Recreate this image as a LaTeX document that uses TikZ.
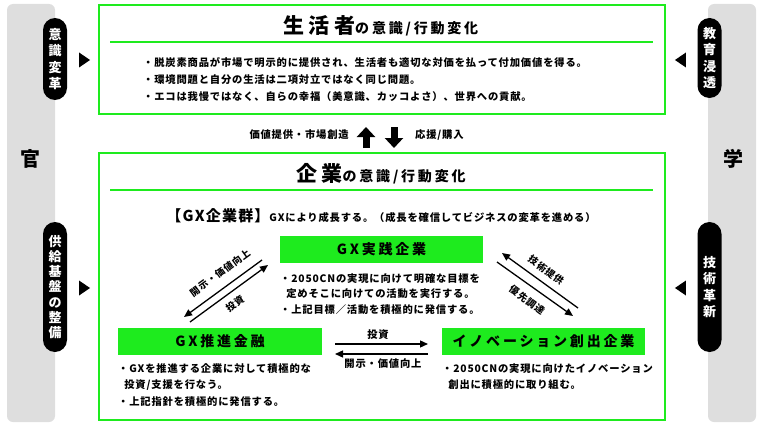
\documentclass[tikz,border=0pt]{standalone}
\usepackage{fontspec}
\setmainfont{Noto Sans CJK JP}[LetterSpace=8]
\newfontfamily\ttlfont{Noto Sans CJK JP}[LetterSpace=20]
\usetikzlibrary{shapes.geometric,arrows.meta}
\definecolor{gxgreen}{RGB}{30,235,30}
\definecolor{panelgray}{RGB}{222,222,222}

\begin{document}
\begin{tikzpicture}[x=1pt,y=-1pt]
        \tikzstyle{panel}=[fill=panelgray,rounded corners=6pt]
        \tikzstyle{frame}=[draw=gxgreen,line width=2.5pt]
        \tikzstyle{pill}=[fill=black,rounded corners=12pt,text=white,align=center,
        inner sep=0pt,minimum width=24pt,font=\bfseries\fontsize{13}{16.3}\selectfont]
        \tikzstyle{pointer}=[isosceles triangle,fill=black,inner sep=0pt,minimum height=11pt,
        minimum width=15pt,isosceles triangle stretches]
        \tikzstyle{gxbox}=[fill=gxgreen,minimum width=203pt,minimum height=27pt,inner sep=0pt,
        font=\ttlfont\bfseries\fontsize{14}{14}\selectfont]
        \tikzstyle{bullets}=[anchor=north west,align=left,inner sep=0pt,
        font=\bfseries\fontsize{10.3}{16.5}\selectfont]
        \tikzstyle{lbl}=[inner sep=0pt,font=\bfseries\fontsize{10.3}{12}\selectfont]
        \tikzstyle{slbl}=[inner sep=0pt,font=\bfseries\fontsize{9.6}{11}\selectfont]
        \tikzstyle{bigarrow}=[line width=7pt,-{Triangle[length=10pt,width=18pt]}]
        \tikzstyle{flow}=[line width=1.3pt,-{Triangle[length=8pt,width=7pt]}]
        \useasboundingbox (0,0) rectangle (760,428);

        % side panels
        \fill[panel] (7,4) rectangle (55,422);
        \fill[panel] (708,4) rectangle (756,422);
        \node[font=\bfseries\fontsize{20}{20}\selectfont] (kan) at (30,159) {官};
        \node[font=\bfseries\fontsize{20}{20}\selectfont] (gaku) at (733,159) {学};

        \node[pill,minimum height=82pt] (ishiki) at (55,59) {意\\識\\変\\革};
        \node[pill,minimum height=130pt,font=\bfseries\fontsize{13}{15.2}\selectfont] (kiban) at (55,287) {供\\給\\基\\盤\\の\\整\\備};
        \node[pill,minimum height=80pt] (kyoiku) at (709.5,58) {教\\育\\浸\\透};
        \node[pill,minimum height=130pt] (gijutsu) at (709.5,287) {技\\術\\革\\新};

        \node[pointer] (m1) at (83,60) {};
        \node[pointer] (m2) at (83,288) {};
        \node[pointer,shape border rotate=180] (m3) at (682,60) {};
        \node[pointer,shape border rotate=180] (m4) at (682,288) {};

        % consumers
        \node[frame,minimum width=566pt,minimum height=109pt] (life) at (382,59.5) {};
        \node[anchor=base] (lifettl) at (381,34)
        {\ttlfont\bfseries\fontsize{21}{21}\selectfont 生活者\fontsize{14}{14}\selectfont の意識/行動変化};
        \draw[gxgreen,line width=1.2pt] (110,42) -- (653,42);
        \node[bullets,font=\bfseries\fontsize{10.3}{17}\selectfont] (lifetxt) at (143,57)
        {・脱炭素商品が市場で明示的に提供され、生活者も適切な対価を払って付加価値を得る。\\
        ・環境問題と自分の生活は二項対立ではなく同じ問題。\\
        ・エコは我慢ではなく、自らの幸福（美意識、カッコよさ）、世界への貢献。};

        % exchange
        \coordinate (upS) at (366,148);
        \coordinate (upE) at (366,127);
        \coordinate (dnS) at (394,127);
        \coordinate (dnE) at (394,148);
        \draw[bigarrow] (upS) -- (upE);
        \draw[bigarrow] (dnS) -- (dnE);
        \node[lbl,anchor=east] (kachi) at (349,135) {価値提供・市場創造};
        \node[lbl,anchor=west] (ouen) at (415,135) {応援/購入};

        % companies
        \node[frame,minimum width=566pt,minimum height=267pt] (corp) at (382,286.5) {};
        \node[anchor=base] (corpttl) at (381,181)
        {\ttlfont\bfseries\fontsize{21}{21}\selectfont 企業\fontsize{14}{14}\selectfont の意識/行動変化};
        \draw[gxgreen,line width=1.2pt] (110,190) -- (653,190);
        \node[anchor=base] (gxgrp) at (381,221)
        {\bfseries\fontsize{15}{15}\selectfont 【GX企業群】\fontsize{10.3}{12}\selectfont GXにより成長する。（成長を確信してビジネスの変革を進める）};

        \node[gxbox] (jissen) at (381.5,249) {GX実践企業};
        \node[bullets,font=\bfseries\fontsize{10.3}{15.5}\selectfont] (jissentxt) at (280,273)
        {・2050CNの実現に向けて明確な目標を\\
        \hspace*{0.6em}定めそこに向けての活動を実行する。\\
        ・上記目標／活動を積極的に発信する。};

        \node[gxbox,minimum width=204pt] (kinyu) at (220,341.5) {GX推進金融};
        \node[bullets] (kinyutxt) at (118,363)
        {・GXを推進する企業に対して積極的な\\
        \hspace*{0.6em}投資/支援を行なう。\\
        ・上記指針を積極的に発信する。};

        \node[gxbox] (sousyutsu) at (543.5,341.5) {イノベーション創出企業};
        \node[bullets] (sousyutsutxt) at (442,363)
        {・2050CNの実現に向けたイノベーション\\
        \hspace*{0.6em}創出に積極的に取り組む。};

        % flows between companies
        \coordinate (la1) at (262,260);
        \coordinate (la2) at (184,317);
        \coordinate (lb1) at (190,322);
        \coordinate (lb2) at (268,265);
        \draw[flow] (la1) -- (la2);
        \draw[flow] (lb1) -- (lb2);
        \node[slbl,rotate=36] (kaiji1) at (220,273) {開示・価値向上};
        \node[slbl,rotate=36] (toshi1) at (235,304) {投資};

        \coordinate (ra1) at (578,308);
        \coordinate (ra2) at (502,253);
        \coordinate (rb1) at (497,262);
        \coordinate (rb2) at (573,316);
        \draw[flow] (ra1) -- (ra2);
        \draw[flow] (rb1) -- (rb2);
        \node[slbl,rotate=-36] (teikyo) at (546,270) {技術提供};
        \node[slbl,rotate=-36] (chotatsu) at (527,300) {優先調達};

        \coordinate (ha1) at (335,344);
        \coordinate (ha2) at (428,344);
        \coordinate (hb1) at (428,354);
        \coordinate (hb2) at (335,354);
        \draw[flow] (ha1) -- (ha2);
        \draw[flow] (hb1) -- (hb2);
        \node[lbl] (toshi2) at (378,335) {投資};
        \node[lbl] (kaiji2) at (383,364) {開示・価値向上};
      \end{tikzpicture}
\end{document}
